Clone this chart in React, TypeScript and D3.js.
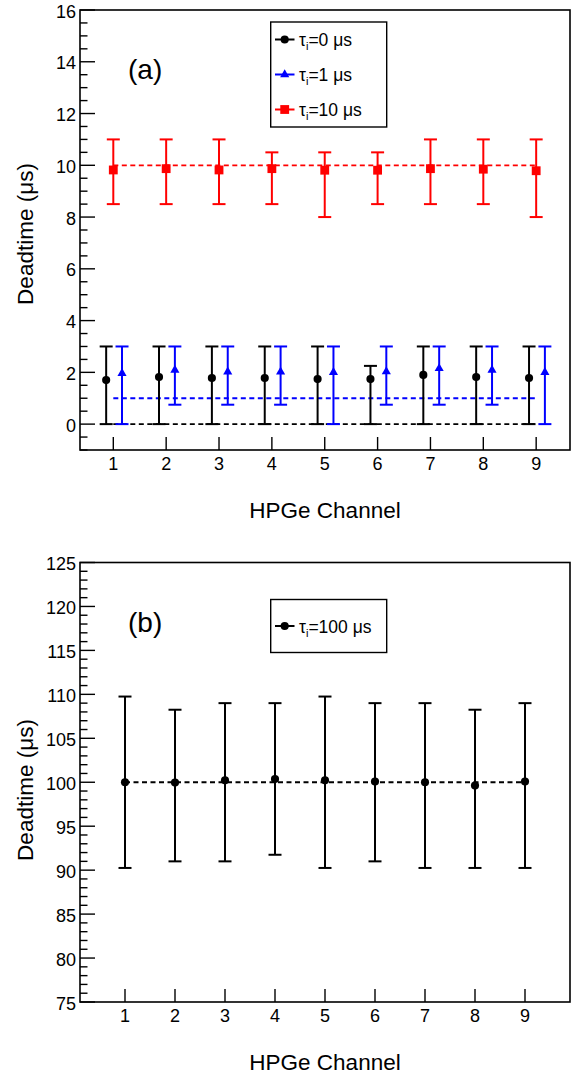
import React from "react";
import * as d3 from "d3";

// channel numbers
const channels = [1, 2, 3, 4, 5, 6, 7, 8, 9];

// panel (a): tau_i = 0 us
const dt0 = [1.7, 1.82, 1.78, 1.78, 1.74, 1.74, 1.9, 1.82, 1.78];
const dt0Low = [0, 0, 0, 0, 0, 0, 0, 0, 0];
const dt0High = [3, 3, 3, 3, 3, 2.25, 3, 3, 3];

// panel (a): tau_i = 1 us
const dt1 = [1.96, 2.09, 2.02, 2.02, 2.0, 2.03, 2.15, 2.09, 2.0];
const dt1Low = [0, 0.75, 0.75, 0.75, 0, 0.75, 0.75, 0.75, 0];
const dt1High = [3, 3, 3, 3, 3, 3, 3, 3, 3];

// panel (a): tau_i = 10 us
const dt10 = [9.82, 9.87, 9.82, 9.87, 9.81, 9.81, 9.87, 9.85, 9.79];
const dt10Low = [8.5, 8.5, 8.5, 8.5, 8, 8.5, 8.5, 8.5, 8];
const dt10High = [11, 11, 11, 10.5, 10.5, 10.5, 11, 11, 11];

// panel (b): tau_i = 100 us
const dt100 = [100.0, 99.96, 100.22, 100.37, 100.22, 100.08, 100.0, 99.62, 100.08];
const dt100Low = [90.25, 91, 91, 91.75, 90.25, 91, 90.25, 90.25, 90.25];
const dt100High = [109.75, 108.25, 109, 109, 109.75, 109, 109, 108.25, 109];

// expected (nominal) deadtime lines
const nominalA = [0, 1, 10];
const nominalB = [100];

const yTicksA = [0, 2, 4, 6, 8, 10, 12, 14, 16];
const yTicksB = [75, 80, 85, 90, 95, 100, 105, 110, 115, 120, 125];

const FONT = "'Liberation Sans', Arial, Helvetica, sans-serif";

type Series = {
  values: number[];
  low: number[];
  high: number[];
  color: string;
  shape: d3.SymbolType;
  size: number;
  offset: number;
  label: string;
};

const markerPath = (shape: d3.SymbolType, size: number) =>
  d3.symbol().type(shape).size(size)() || "";

function Panel(props: {
  top: number;
  bottom: number;
  xDomain: [number, number];
  yDomain: [number, number];
  yTicks: number[];
  minorStep: number;
  series: Series[];
  nominal: { value: number; color: string }[];
  tag: string;
  legendTop: number;
  legendBottom: number;
  titleY: number;
}) {
  const left = 80;
  const right = 570;
  const x = d3.scaleLinear().domain(props.xDomain).range([left, right]);
  const y = d3.scaleLinear().domain(props.yDomain).range([props.bottom, props.top]);
  const minors = d3
    .range(props.yDomain[0], props.yDomain[1] + 1e-9, props.minorStep)
    .filter((v) => !props.yTicks.includes(v));
  const cap = 6.5;
  const dashLine = d3.line<number>().x((c) => x(c)).y(0);

  const legendRowH = (props.legendBottom - props.legendTop) / props.series.length;

  return (
    <g>
      {/* nominal dashed lines */}
      {props.nominal.map((n, i) => (
        <path
          key={"n" + i}
          d={dashLine([channels[0], channels[channels.length - 1]]) || ""}
          transform={`translate(0,${y(n.value)})`}
          stroke={n.color}
          strokeWidth={1.8}
          strokeDasharray="5,3.5"
          fill="none"
        />
      ))}

      {/* error bars + markers */}
      {props.series.map((s, si) => (
        <g key={"s" + si}>
          {channels.map((c, i) => {
            const cx = x(c + s.offset);
            return (
              <g key={i}>
                <line x1={cx} x2={cx} y1={y(s.low[i])} y2={y(s.high[i])} stroke={s.color} strokeWidth={2} />
                <line x1={cx - cap} x2={cx + cap} y1={y(s.low[i])} y2={y(s.low[i])} stroke={s.color} strokeWidth={2} />
                <line x1={cx - cap} x2={cx + cap} y1={y(s.high[i])} y2={y(s.high[i])} stroke={s.color} strokeWidth={2} />
                <path d={markerPath(s.shape, s.size)} transform={`translate(${cx},${y(s.values[i])})`} fill={s.color} />
              </g>
            );
          })}
        </g>
      ))}

      {/* frame */}
      <rect x={left} y={props.top} width={right - left} height={props.bottom - props.top} fill="none" stroke="#000" strokeWidth={1.6} />

      {/* y ticks */}
      {props.yTicks.map((t) => (
        <g key={"yt" + t}>
          <line x1={left} x2={left + 15} y1={y(t)} y2={y(t)} stroke="#000" strokeWidth={1.4} />
          <text x={76} y={y(t) + 7.5} textAnchor="end" fontSize={18} fontFamily={FONT}>
            {t}
          </text>
        </g>
      ))}
      {minors.map((t) => (
        <line key={"ym" + t} x1={left} x2={left + 7.5} y1={y(t)} y2={y(t)} stroke="#000" strokeWidth={1.4} />
      ))}

      {/* x ticks */}
      {channels.map((c) => (
        <g key={"xt" + c}>
          <line x1={x(c)} x2={x(c)} y1={props.bottom} y2={props.bottom - 13} stroke="#000" strokeWidth={1.4} />
          <text x={x(c)} y={props.bottom + 20} textAnchor="middle" fontSize={18} fontFamily={FONT}>
            {c}
          </text>
        </g>
      ))}

      {/* axis titles */}
      <text x={325} y={props.bottom + 67.5} textAnchor="middle" fontSize={22.5} fontFamily={FONT}>
        HPGe Channel
      </text>
      <text
        transform={`translate(33,${props.titleY}) rotate(-90)`}
        textAnchor="middle"
        fontSize={22.5}
        fontFamily={FONT}
      >
        Deadtime (μs)
      </text>

      {/* panel tag */}
      <text x={128} y={props.top + 69} fontSize={28} fontFamily={FONT}>
        {props.tag}
      </text>

      {/* legend */}
      <rect
        x={270.7}
        y={props.legendTop}
        width={116}
        height={props.legendBottom - props.legendTop}
        fill="#fff"
        stroke="#000"
        strokeWidth={1.4}
      />
      {props.series.map((s, si) => {
        const cy = props.legendTop + legendRowH * (si + 0.5);
        return (
          <g key={"lg" + si}>
            <line x1={275} x2={294.5} y1={cy} y2={cy} stroke={s.color} strokeWidth={2} />
            <path d={markerPath(s.shape, s.size)} transform={`translate(284.7,${cy})`} fill={s.color} />
            <text x={299} y={cy + 6.5} fontSize={17.5} fontFamily={FONT}>
              τ
              <tspan dy={4} fontSize={11}>i</tspan>
              <tspan dy={-4}>{"=" + s.label + " μs"}</tspan>
            </text>
          </g>
        );
      })}
    </g>
  );
}

export default function App() {
  const seriesA: Series[] = [
    { values: dt0, low: dt0Low, high: dt0High, color: "#000000", shape: d3.symbolCircle, size: 52, offset: -0.135, label: "0" },
    { values: dt1, low: dt1Low, high: dt1High, color: "#0000ff", shape: d3.symbolTriangle, size: 36, offset: 0.165, label: "1" },
    { values: dt10, low: dt10Low, high: dt10High, color: "#ff0000", shape: d3.symbolSquare, size: 78, offset: 0, label: "10" },
  ];
  const seriesB: Series[] = [
    { values: dt100, low: dt100Low, high: dt100High, color: "#000000", shape: d3.symbolCircle, size: 52, offset: 0, label: "100" },
  ];
  const colorsA = ["#000000", "#0000ff", "#ff0000"];

  return (
    <div style={{ position: "absolute", left: 0, top: 0, background: "#fff" }}>
      <svg width={573} height={1073} style={{ display: "block" }}>
        <rect width={573} height={1073} fill="#fff" />
        <Panel
          top={10}
          bottom={450}
          xDomain={[0.37, 9.64]}
          yDomain={[-1, 16]}
          yTicks={yTicksA}
          minorStep={0.5}
          series={seriesA}
          nominal={nominalA.map((v, i) => ({ value: v, color: colorsA[i] }))}
          tag="(a)"
          legendTop={22}
          legendBottom={127}
          titleY={234}
        />
        <Panel
          top={562.5}
          bottom={1002}
          xDomain={[0.1, 9.9]}
          yDomain={[75, 125]}
          yTicks={yTicksB}
          minorStep={1}
          series={seriesB}
          nominal={nominalB.map((v) => ({ value: v, color: "#000000" }))}
          tag="(b)"
          legendTop={599.5}
          legendBottom={652.5}
          titleY={790}
        />
      </svg>
    </div>
  );
}
